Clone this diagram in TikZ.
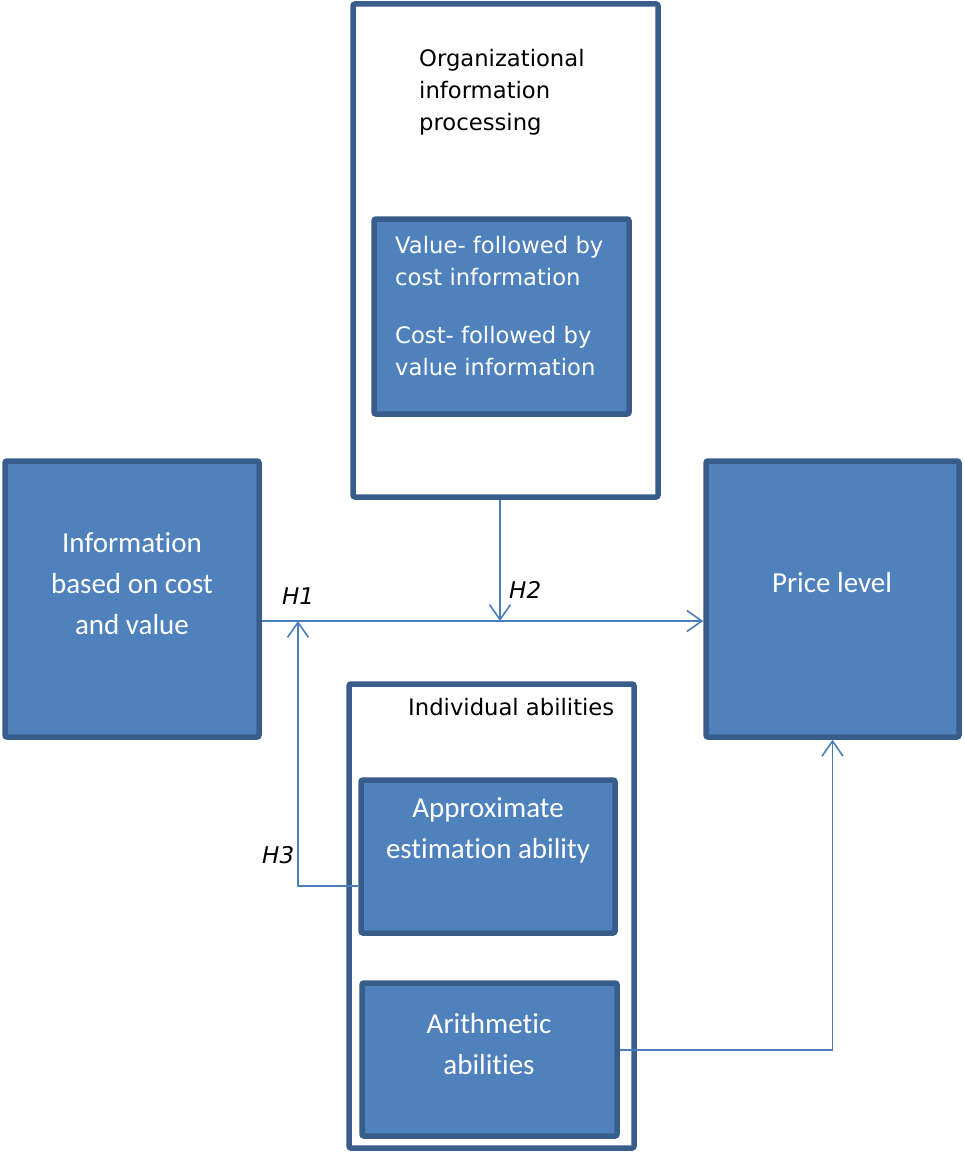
\documentclass[tikz,border=0pt]{standalone}
\usepackage{fontspec}
\usetikzlibrary{arrows.meta}
\newfontfamily\verd{DejaVu Sans}
\newfontfamily\calib[Ligatures={NoCommon}]{Carlito}
\definecolor{boxfill}{HTML}{4F81BD}
\definecolor{boxline}{HTML}{385D8A}
\definecolor{connline}{HTML}{4A7EBB}
\tikzset{
  bluebox/.style={draw=boxline, line width=5.5pt, fill=boxfill, rounded corners=2pt, inner sep=0pt},
  whitebox/.style={draw=boxline, line width=5.5pt, fill=white, rounded corners=2pt, inner sep=0pt},
  conn/.style={draw=connline, line width=1.6pt},
  arr/.style={conn, -{Straight Barb[length=15pt,width=21pt,line width=1.6pt]}},
  vtext/.style={font={\verd\fontsize{22.7}{32}\selectfont}, inner sep=0pt, align=left},
  ctext/.style={font={\calib\fontsize{29}{41}\selectfont}, inner sep=0pt, align=center, text=white},
  htext/.style={font={\verd\itshape\fontsize{23}{24}\selectfont}, inner sep=0pt}
}
\begin{document}
\begin{tikzpicture}[x=1pt,y=-1pt]
\useasboundingbox (0,0) rectangle (964,1153);
% boxes
\node[whitebox, minimum width=305pt, minimum height=493pt] (org) at (505.5,250.5) {};
\node[bluebox, minimum width=255pt, minimum height=195pt] (val) at (501.5,316.5) {};
\node[bluebox, minimum width=254pt, minimum height=276pt] (info) at (132,599) {};
\node[bluebox, minimum width=253pt, minimum height=276pt] (price) at (832.5,599) {};
\node[whitebox, minimum width=285pt, minimum height=464pt] (ind) at (491.5,916) {};
\node[bluebox, minimum width=254pt, minimum height=153pt] (approx) at (488,856.5) {};
\node[bluebox, minimum width=255pt, minimum height=153pt] (arith) at (489.5,1059.5) {};
% texts
\node[vtext, anchor=west] (orgt) at (419,92) {Organizational\\information\\processing};
\node[vtext, anchor=west, text=white] (valt1) at (395,261) {Value- followed by\\cost information};
\node[vtext, anchor=west, text=white] (valt2) at (395,351.5) {Cost- followed by\\value information};
\node[vtext, anchor=west] (indt) at (408,707) {Individual abilities};
\node[ctext] (infot) at (132,583.5) {Information\\based on cost\\and value};
\node[ctext] (pricet) at (832,583) {Price level};
\node[ctext] (approxt) at (488,830.5) {Approximate\\estimation ability};
\node[ctext] (aritht) at (489,1044.5) {Arithmetic\\abilities};
\node[htext, anchor=west] (h1) at (282,596) {H1};
\node[htext, anchor=west] (h2) at (509,590) {H2};
\node[htext, anchor=west] (h3) at (262,855) {H3};
% connectors
\coordinate (my) at (0,621);
\coordinate (h2p) at (500,621);
\coordinate (h3a) at (298,886);
\coordinate (h3b) at (298,621);
\coordinate (ar) at (832.5,1050);
\draw[arr] (info.east |- my) -- (price.west |- my);
\draw[arr] (org.south -| h2p) -- (h2p);
\draw[arr] (approx.west |- h3a) -- (h3a) -- (h3b);
\draw[arr] (arith.east |- ar) -- (ar) -- (price.south);
\end{tikzpicture}
\end{document}
